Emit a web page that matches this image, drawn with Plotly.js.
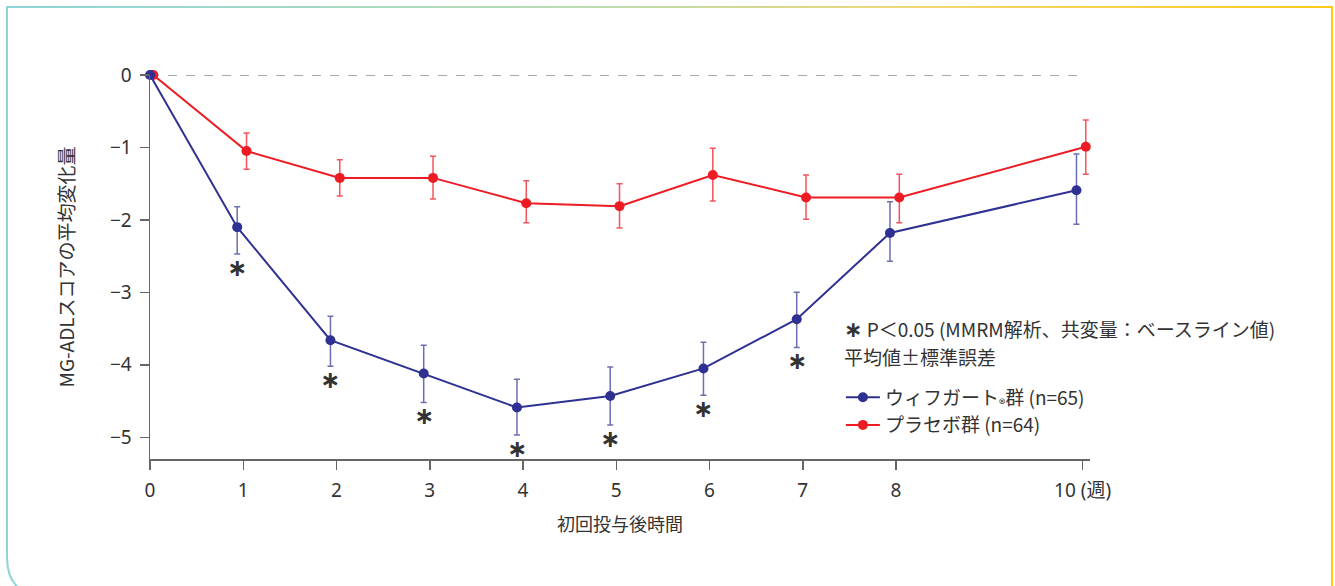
<!DOCTYPE html>
<html>
<head>
<meta charset="utf-8">
<script src="https://cdn.plot.ly/plotly-3.0.1.min.js"></script>
<style>
  html, body { margin: 0; padding: 0; background: #fff; }
  #wrap { position: relative; width: 1335px; height: 586px; overflow: hidden; }
  #frame { position: absolute; left: 0; top: 0; }
  #chart { position: absolute; left: 0; top: 0; width: 1335px; height: 586px; }
</style>
</head>
<body>
<div id="wrap">
  <svg id="frame" width="1335" height="586">
    <defs>
      <linearGradient id="g" x1="0" y1="0" x2="1335" y2="0" gradientUnits="userSpaceOnUse">
        <stop offset="0" stop-color="#8dd5d9"/>
        <stop offset="0.45" stop-color="#bcdcb0"/>
        <stop offset="0.7" stop-color="#f2d770"/>
        <stop offset="1" stop-color="#ffc91a"/>
      </linearGradient>
    </defs>
    <path d="M1332,700 L1332,7 L7,7 L7,557 Q7,596 46,596 L1340,596" fill="none" stroke="url(#g)" stroke-width="2"/>
  </svg>
  <div id="chart"></div>
</div>
<script>
// ---- data ----
var weeks = [0, 1, 2, 3, 4, 5, 6, 7, 8, 10];
var xTickVals = [0, 1, 2, 3, 4, 5, 6, 7, 8, 10];
var xTickText = ["0", "1", "2", "3", "4", "5", "6", "7", "8", "10 (週)"];
var yTickVals = [0, -1, -2, -3, -4, -5];
var yTickText = ["0", "−1", "−2", "−3", "−4", "−5"];

var efgName = "ウィフガート<sub>®</sub>群 (n=65)";
var efgMean = [0, -2.10, -3.66, -4.12, -4.59, -4.43, -4.05, -3.37, -2.18, -1.59];
var efgUpper = [0, 0.28, 0.33, 0.39, 0.39, 0.40, 0.36, 0.37, 0.43, 0.50];
var efgLower = [0, 0.37, 0.36, 0.40, 0.38, 0.40, 0.37, 0.39, 0.39, 0.47];
var efgSig = [false, true, true, true, true, true, true, true, false, false];

var plaName = "プラセボ群 (n=64)";
var plaMean = [0, -1.05, -1.42, -1.42, -1.77, -1.81, -1.38, -1.69, -1.69, -0.99];
var plaUpper = [0, 0.25, 0.25, 0.30, 0.31, 0.31, 0.37, 0.31, 0.32, 0.37];
var plaLower = [0, 0.25, 0.25, 0.29, 0.27, 0.30, 0.36, 0.30, 0.35, 0.38];

var sigMark = "∗";
var noteText = "<span style=\"font-family:'DejaVu Sans';font-size:22px\"><b>∗</b></span> P＜0.05 (MMRM解析、共変量：ベースライン値)";
var seText = "平均値±標準誤差";
var xTitle = "初回投与後時間";
var yTitle = "MG-ADLスコアの平均変化量";

// ---- style ----
var BLUE = "#2e3192", RED = "#ed1c24";
var BLUE_DODGE = -0.065, RED_DODGE = 0.035;
var FONT = "'Noto Sans CJK JP', 'Noto Sans', sans-serif";
var TICKFONT = "'Noto Sans', 'Noto Sans CJK JP', sans-serif";
var TXT = "#333333";

function dodge(w, d) { return w === 0 ? Math.max(0, w + d) : w + d; }
var efgX = weeks.map(function (w) { return dodge(w, BLUE_DODGE); });
var plaX = weeks.map(function (w) { return dodge(w, RED_DODGE); });

var traces = [
  {
    x: plaX, y: plaMean, name: plaName, type: "scatter", mode: "lines+markers",
    line: { color: RED, width: 2 }, marker: { color: RED, size: 10 },
    error_y: { type: "data", symmetric: false, array: plaUpper, arrayminus: plaLower,
               color: "rgba(237,28,36,0.75)", thickness: 1.5, width: 3 },
    cliponaxis: false, legendrank: 2
  },
  {
    x: efgX, y: efgMean, name: efgName, type: "scatter", mode: "lines+markers",
    line: { color: BLUE, width: 2 }, marker: { color: BLUE, size: 10 },
    error_y: { type: "data", symmetric: false, array: efgUpper, arrayminus: efgLower,
               color: "rgba(46,49,146,0.7)", thickness: 1.5, width: 3 },
    cliponaxis: false, legendrank: 1
  }
];

var annotations = [];
weeks.forEach(function (w, i) {
  if (efgSig[i]) {
    annotations.push({
      x: efgX[i], y: efgMean[i] - efgLower[i], xref: "x", yref: "y",
      text: "<b>" + sigMark + "</b>", showarrow: false, yanchor: "top", yshift: 2,
      font: { family: "'DejaVu Sans', sans-serif", size: 24, color: TXT }
    });
  }
});
annotations.push({
  x: 0.736, y: 0.341, xref: "paper", yref: "paper", xanchor: "left", yanchor: "middle",
  text: noteText, showarrow: false, font: { family: FONT, size: 19, color: TXT }
});
annotations.push({
  x: 0.736, y: 0.266, xref: "paper", yref: "paper", xanchor: "left", yanchor: "middle",
  text: seText, showarrow: false, font: { family: FONT, size: 19, color: TXT }
});

var layout = {
  width: 1335, height: 586,
  margin: { l: 150, r: 245, t: 75, b: 127 },
  paper_bgcolor: "rgba(0,0,0,0)", plot_bgcolor: "rgba(0,0,0,0)",
  font: { family: FONT, size: 18, color: TXT },
  showlegend: true,
  legend: {
    x: 0.735, y: 0.21, xanchor: "left", yanchor: "top",
    font: { family: FONT, size: 19, color: TXT },
    bgcolor: "rgba(0,0,0,0)", tracegroupgap: 0, itemwidth: 34
  },
  xaxis: {
    range: [0, 10.08], tickvals: xTickVals, ticktext: xTickText,
    showgrid: false, zeroline: false, showline: true, linecolor: "#666", linewidth: 1.5,
    ticks: "outside", ticklen: 9, tickcolor: "#666", tickwidth: 1.5,
    ticklabelstandoff: 5,
    tickfont: { family: TICKFONT, size: 19, color: TXT },
    title: { text: xTitle, font: { family: FONT, size: 18, color: TXT }, standoff: 16 }
  },
  yaxis: {
    range: [-5.3, 0], tickvals: yTickVals, ticktext: yTickText,
    showgrid: false, zeroline: false, showline: true, linecolor: "#666", linewidth: 1.5,
    ticks: "outside", ticklen: 9, tickcolor: "#666", tickwidth: 1.5,
    ticklabelstandoff: 4,
    tickfont: { family: TICKFONT, size: 19, color: TXT },
    title: { text: yTitle, font: { family: FONT, size: 19, color: TXT }, standoff: 30 }
  },
  shapes: [{
    type: "line", xref: "x", yref: "y", x0: 0, x1: 10, y0: 0, y1: 0,
    line: { color: "#555", width: 1, dash: "dash" }, layer: "below"
  }],
  annotations: annotations
};

Plotly.newPlot("chart", traces, layout, { displayModeBar: false, staticPlot: true });
</script>
</body>
</html>
